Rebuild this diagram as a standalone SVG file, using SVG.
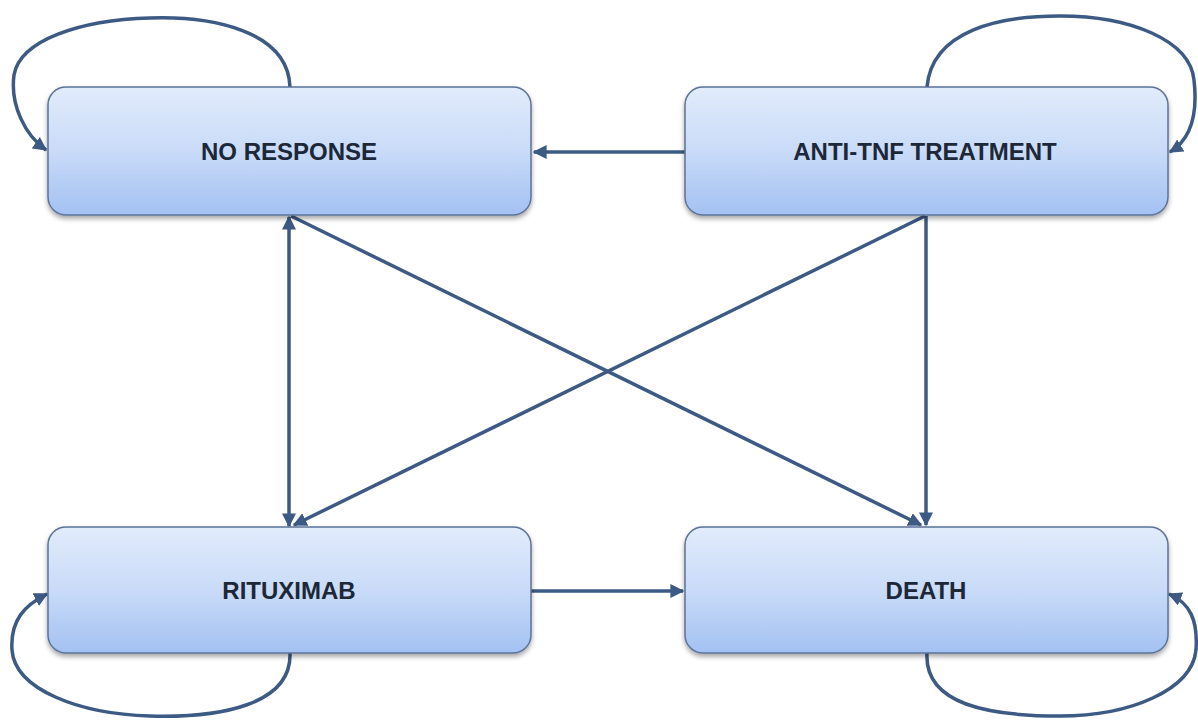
<svg xmlns="http://www.w3.org/2000/svg" width="1198" height="720" viewBox="0 0 1198 720">
<defs>
<linearGradient id="g" x1="0" y1="0" x2="0" y2="1">
<stop offset="0" stop-color="#e1ecfc"/>
<stop offset="0.5" stop-color="#c9dbf8"/>
<stop offset="1" stop-color="#a3c1f2"/>
</linearGradient>
<filter id="sh" x="-5%" y="-5%" width="110%" height="120%">
<feGaussianBlur in="SourceAlpha" stdDeviation="2.5"/>
<feOffset dx="0" dy="3" result="b"/>
<feComponentTransfer><feFuncA type="linear" slope="0.35"/></feComponentTransfer>
<feMerge><feMergeNode/><feMergeNode in="SourceGraphic"/></feMerge>
</filter>
<marker id="ah" viewBox="0 0 10 10" refX="9" refY="5" markerWidth="4" markerHeight="4" orient="auto-start-reverse" markerUnits="strokeWidth">
<path d="M0,0 L10,5 L0,10 z" fill="#3c5a84"/>
</marker>
</defs>
<style>
.box{fill:url(#g);stroke:#5b7398;stroke-width:1.5;filter:url(#sh)}
.lbl{font-family:"Liberation Sans",Arial,sans-serif;font-weight:bold;font-size:24px;fill:#1c2738;text-anchor:middle}
.c{fill:none;stroke:#3c5a84;stroke-width:3.5;marker-end:url(#ah)}
.both{marker-start:url(#ah)}
</style>
<rect width="1198" height="720" fill="#ffffff"/>
<g id="connectors">
<path class="c" d="M290,87 C288,30 210,16 150,18 C80,20 20,40 14,75 C10,105 25,135 46,150"/>
<path class="c" d="M927,87 C932,30 1000,16 1060,16 C1130,16 1190,40 1194,80 C1198,115 1190,140 1170,152"/>
<path class="c" d="M290,653 C292,705 220,718 150,716 C80,714 15,690 12,650 C10,620 25,605 47,594"/>
<path class="c" d="M927,653 C924,705 990,716 1060,716 C1130,716 1192,690 1196,650 C1198,620 1190,603 1169,594"/>
<line class="c" x1="685" y1="152" x2="534" y2="152"/>
<line class="c" x1="531" y1="591" x2="683" y2="591"/>
<line class="c both" x1="289" y1="217" x2="289" y2="526"/>
<line class="c" x1="291" y1="216" x2="921" y2="525"/>
<line class="c" x1="925" y1="216" x2="294" y2="525"/>
<line class="c" x1="926" y1="216" x2="926" y2="525"/>
</g>
<g id="no-response">
<rect class="box" x="48" y="87" width="483" height="128" rx="18"/>
<text class="lbl" x="289" y="160">NO RESPONSE</text>
</g>
<g id="anti-tnf">
<rect class="box" x="685" y="87" width="483" height="128" rx="18"/>
<text class="lbl" x="925" y="160">ANTI-TNF TREATMENT</text>
</g>
<g id="rituximab">
<rect class="box" x="48" y="527" width="483" height="126" rx="18"/>
<text class="lbl" x="289" y="599">RITUXIMAB</text>
</g>
<g id="death">
<rect class="box" x="685" y="527" width="483" height="126" rx="18"/>
<text class="lbl" x="926" y="599">DEATH</text>
</g>
</svg>
